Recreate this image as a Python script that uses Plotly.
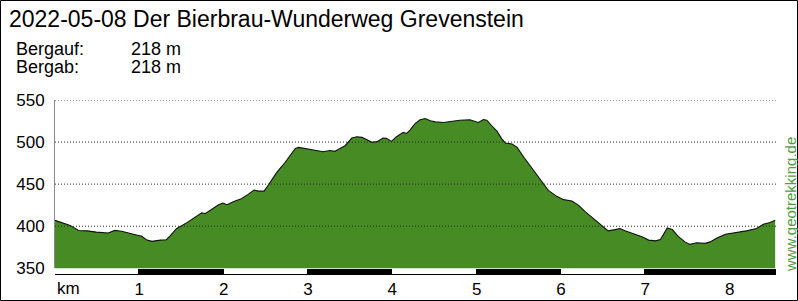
import plotly.graph_objects as go

# ---------------- data ----------------
km = [0.00, 0.09, 0.18, 0.28, 0.38, 0.49, 0.63, 0.71, 0.79, 0.93,
      1.03, 1.09, 1.15, 1.25, 1.32, 1.36, 1.44, 1.56, 1.68, 1.74,
      1.78, 1.86, 1.94, 1.99, 2.04, 2.12, 2.21, 2.29, 2.36, 2.41,
      2.48, 2.53, 2.63, 2.73, 2.79, 2.85, 2.89, 2.97, 3.06, 3.18,
      3.26, 3.32, 3.38, 3.44, 3.52, 3.58, 3.64, 3.70, 3.76, 3.82,
      3.89, 3.93, 3.99, 4.05, 4.13, 4.17, 4.21, 4.27, 4.33, 4.39,
      4.45, 4.51, 4.61, 4.69, 4.80, 4.92, 4.98, 5.02, 5.08, 5.12,
      5.18, 5.24, 5.30, 5.34, 5.42, 5.48, 5.56, 5.65, 5.75, 5.85,
      5.95, 6.03, 6.13, 6.21, 6.29, 6.39, 6.49, 6.56, 6.64, 6.70,
      6.76, 6.86, 6.96, 7.04, 7.12, 7.18, 7.22, 7.26, 7.32, 7.39,
      7.47, 7.53, 7.61, 7.71, 7.77, 7.85, 7.95, 8.09, 8.20, 8.32,
      8.40, 8.48, 8.54]
elev = [407, 404, 401, 395, 394.5, 393, 392, 395, 394, 390.5,
        388, 383.5, 382, 383.5, 384, 388, 397, 404, 412, 416,
        415, 420, 425.6, 427.5, 425.6, 429.5, 432.7, 437.8, 443, 441.7,
        441.7, 449, 464, 476, 484, 492.5, 493.7, 492.5, 491, 488.6,
        490, 489, 492.5, 495.7, 504.8, 506.4, 505.6, 502.5, 499.7, 500.5,
        504.8, 504.4, 500.8, 506.4, 511.5, 510.3, 514.3, 522, 526.5, 528,
        525.3, 524, 523.3, 524.5, 526, 526.5, 524, 523.3, 526.8, 526,
        519.4, 513, 503.6, 499, 497.8, 493.7, 482, 470, 456.4, 442.6,
        435.5, 431.6, 430, 424.8, 417, 409, 401, 394.5, 396, 397.3,
        394.5, 391.4, 387.4, 383.5, 382.6, 384.3, 391.4, 398, 396, 388,
        381.4, 378.4, 380.3, 379.6, 381.4, 386, 390.5, 392.5, 394.5, 397.3,
        402.4, 404.4, 407]

x_max = 8.55
scale_km = [0, 1, 2, 3, 4, 5, 6, 7, 8]
scale_colors = ["white", "black", "white", "black", "white", "black", "white", "black", "black"]
x_tick_vals = [1, 2, 3, 4, 5, 6, 7, 8]
x_tick_text = ["1", "2", "3", "4", "5", "6", "7", "8"]
y_tick_vals = [350, 400, 450, 500, 550]
grid_vals = [400, 450, 500, 550]

title_text = "2022-05-08 Der Bierbrau-Wunderweg Grevenstein"
stats_labels = ["Bergauf:", "Bergab:"]
stats_values = ["218 m", "218 m"]
watermark = "www.geotrekking.de"
unit_label = "km"

# ---------------- layout geometry ----------------
W, H = 798, 301
ML, MR, MT, MB = 55, 22, 100, 26
PW = W - ML - MR
PH = H - MT - MB


def px(x):
    return (x - ML) / PW


def py(y):
    return (H - MB - y) / PH


main_bottom = py(268.3)
bar_top = py(269.0)

FONT = "Liberation Sans, Arial, sans-serif"
fill_green = "#468B23"

fig = go.Figure()

fig.add_trace(go.Scatter(
    x=km, y=elev, mode="lines", fill="tozeroy",
    fillcolor=fill_green, line=dict(color="#111111", width=1.1),
    xaxis="x", yaxis="y", hoverinfo="skip", showlegend=False,
))

fig.add_trace(go.Bar(
    x=[k + 0.5 for k in scale_km], y=[1] * len(scale_km), width=1,
    marker=dict(color=scale_colors, line=dict(color="black", width=1)),
    xaxis="x", yaxis="y2", hoverinfo="skip", showlegend=False,
))

shapes = []
for v in grid_vals:
    shapes.append(dict(type="line", xref="paper", yref="y", x0=0, x1=1, y0=v, y1=v,
                       line=dict(color="#2a2a2a", width=1, dash="1px,2px"), layer="above"))
shapes.append(dict(type="rect", xref="paper", yref="paper",
                   x0=px(0.5), x1=px(W - 0.5), y0=py(H - 0.5), y1=py(0.5),
                   line=dict(color="black", width=1), fillcolor="rgba(0,0,0,0)", layer="above"))

annotations = [
    dict(text=title_text, x=px(7), y=py(19), xref="paper", yref="paper",
         xanchor="left", yanchor="middle", showarrow=False,
         font=dict(family=FONT, size=23, color="black")),
]
for i, (lab, val) in enumerate(zip(stats_labels, stats_values)):
    yc = 49 + i * 17.7
    annotations.append(dict(text=lab, x=px(14), y=py(yc), xref="paper", yref="paper",
                            xanchor="left", yanchor="middle", showarrow=False,
                            font=dict(family=FONT, size=18, color="black")))
    annotations.append(dict(text=val, x=px(129.3), y=py(yc), xref="paper", yref="paper",
                            xanchor="left", yanchor="middle", showarrow=False,
                            font=dict(family=FONT, size=18, color="black")))
annotations.append(dict(text=unit_label, x=0, y=py(288), xref="x", yref="paper",
                        xanchor="left", yanchor="middle", showarrow=False,
                        font=dict(family=FONT, size=17, color="black")))
annotations.append(dict(text=watermark, x=px(790), y=py(205), xref="paper", yref="paper",
                        xanchor="center", yanchor="middle", textangle=-90, showarrow=False,
                        font=dict(family=FONT, size=15, color="#4E9E3E")))

fig.update_layout(
    template="none",
    width=W, height=H,
    margin=dict(l=ML, r=MR, t=MT, b=MB, pad=0, autoexpand=False),
    paper_bgcolor="white", plot_bgcolor="white",
    showlegend=False,
    bargap=0,
    font=dict(family=FONT, color="black"),
    xaxis=dict(range=[0, x_max], anchor="y2", automargin=False, showgrid=False, zeroline=False,
               showline=False, ticks="", tickvals=x_tick_vals, ticktext=x_tick_text,
               tickfont=dict(family=FONT, size=17, color="black"), ticklabelstandoff=2),
    yaxis=dict(domain=[main_bottom, 1], range=[350, 550], automargin=False, showgrid=False,
               zeroline=False, showline=True, linecolor="#8a8a8a", linewidth=1, ticks="",
               tickvals=y_tick_vals, tickfont=dict(family=FONT, size=17, color="black"),
               ticklabelstandoff=6),
    yaxis2=dict(domain=[0, bar_top], range=[0, 1], automargin=False, showgrid=False,
                zeroline=False, showline=False, showticklabels=False, ticks=""),
    shapes=shapes,
    annotations=annotations,
)

fig.write_html("out.html")
